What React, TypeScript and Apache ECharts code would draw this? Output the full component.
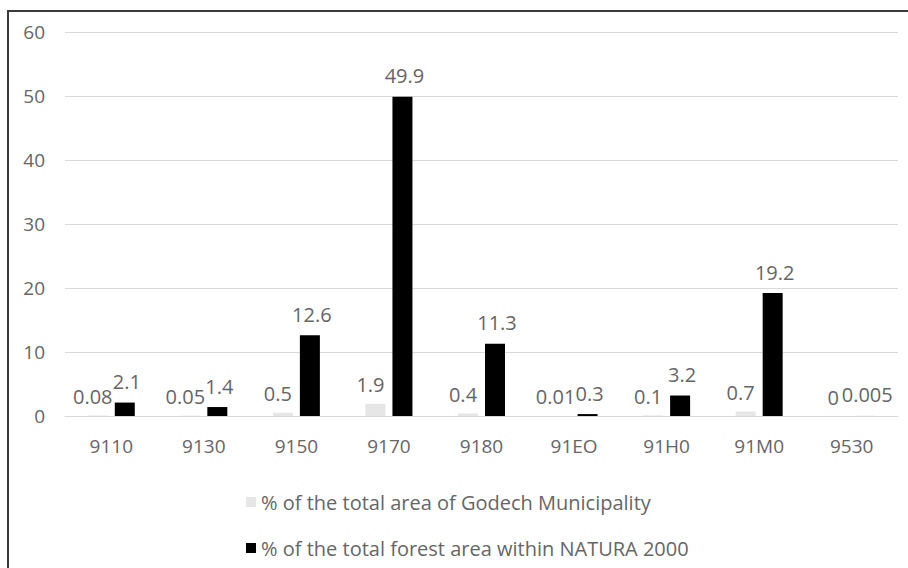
import React, { useEffect, useRef } from "react";
import * as echarts from "echarts";

const categories = ["9110", "9130", "9150", "9170", "9180", "91EO", "91H0", "91M0", "9530"];
const municipalityShare = [0.08, 0.05, 0.5, 1.9, 0.4, 0.01, 0.1, 0.7, 0];
const naturaShare = [2.1, 1.4, 12.6, 49.9, 11.3, 0.3, 3.2, 19.2, 0.005];
const seriesNames = [
  "% of the total area of Godech Municipality",
  "% of the total forest area within NATURA 2000",
];

const FONT = "'Open Sans', 'Noto Sans', sans-serif";
const TXT = "#666666";

export default function App() {
  const ref = useRef<HTMLDivElement>(null);
  useEffect(() => {
    if (!ref.current) return;
    const chart = echarts.init(ref.current, null, { renderer: "svg" });
    const baseLabel = {
      show: true,
      position: "top" as const,
      color: TXT,
      fontSize: 20,
      fontFamily: FONT,
      formatter: (p: any) => String(p.value),
    };
    chart.setOption({
      animation: false,
      backgroundColor: "#ffffff",
      textStyle: { fontFamily: FONT },
      graphic: [
        {
          type: "rect",
          shape: { x: 8, y: 11, width: 1000, height: 1000 },
          style: { fill: "none", stroke: "#3a3a3a", lineWidth: 2 },
          silent: true,
        },
      ],
      grid: { left: 65, right: 10, top: 32, bottom: 152, containLabel: false },
      legend: {
        orient: "vertical",
        left: 241,
        top: 487,
        itemWidth: 10,
        itemHeight: 10,
        itemGap: 26,
        icon: "rect",
        textStyle: { color: TXT, fontSize: 20, fontFamily: FONT },
        data: seriesNames,
      },
      xAxis: {
        type: "category",
        data: categories,
        axisLine: { lineStyle: { color: "#d9d9d9", width: 1 } },
        axisTick: { show: false },
        axisLabel: { color: TXT, fontSize: 19, fontFamily: FONT, margin: 20 },
      },
      yAxis: {
        type: "value",
        min: 0,
        max: 60,
        interval: 10,
        axisLine: { show: false },
        axisTick: { show: false },
        splitLine: { lineStyle: { color: "#d9d9d9", width: 1 } },
        axisLabel: { color: TXT, fontSize: 19, fontFamily: FONT, margin: 20 },
      },
      series: [
        {
          name: seriesNames[0],
          type: "bar",
          data: municipalityShare,
          barWidth: 20,
          barGap: "35%",
          itemStyle: { color: "#e7e6e6" },
          label: { ...baseLabel, distance: 9, offset: [-5, 0] },
        },
        {
          name: seriesNames[1],
          type: "bar",
          data: naturaShare,
          barWidth: 20,
          itemStyle: { color: "#000000" },
          label: { ...baseLabel, distance: 11, offset: [2, 0] },
        },
      ],
    });
    return () => chart.dispose();
  }, []);
  return (
    <div
      ref={ref}
      style={{ position: "absolute", left: 0, top: 0, width: 908, height: 568 }}
    />
  );
}
